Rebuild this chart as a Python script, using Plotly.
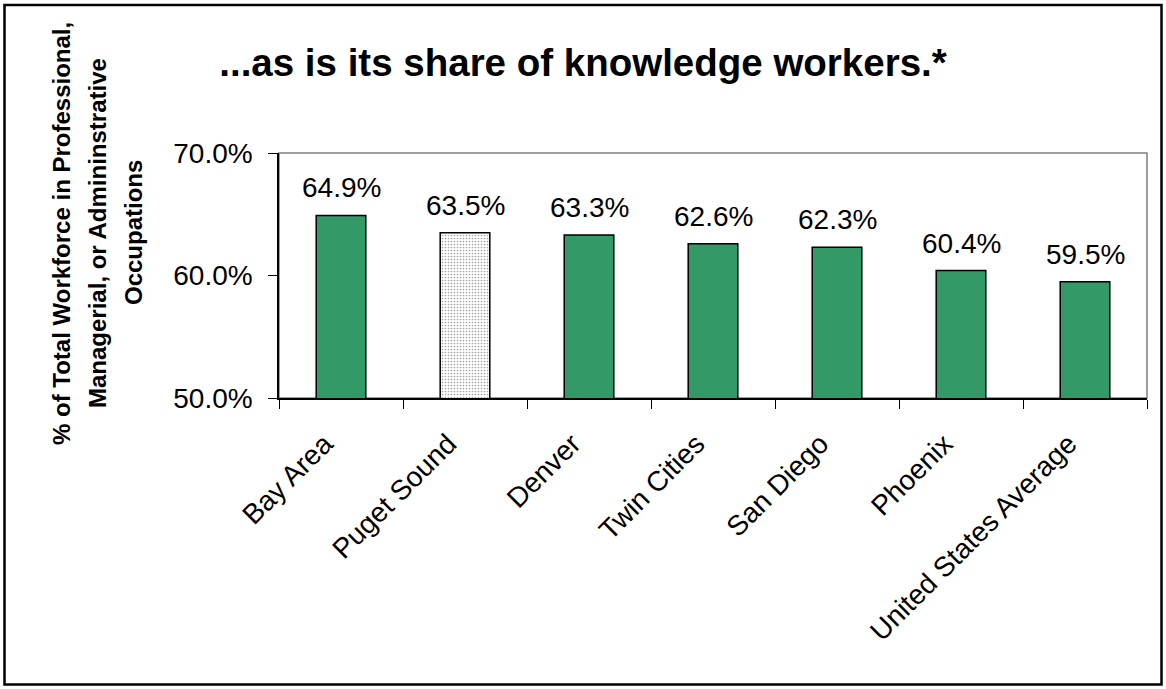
import plotly.graph_objects as go

regions = ["Bay Area", "Puget Sound", "Denver", "Twin Cities", "San Diego",
           "Phoenix", "United States Average"]
share = [64.9, 63.5, 63.3, 62.6, 62.3, 60.4, 59.5]
labels = ["64.9%", "63.5%", "63.3%", "62.6%", "62.3%", "60.4%", "59.5%"]
y_ticks = [50, 60, 70]
y_tick_text = ["50.0%", "60.0%", "70.0%"]
y_title_lines = ["% of Total Workforce in Professional,",
                 "Managerial, or Admininstrative",
                 "Occupations"]

FONT = "Arial, Liberation Sans, sans-serif"
W, H = 1166, 689
L, R, T, B = 279, 1147, 153, 398
pw, ph = R - L, B - T

colors = ["#339966" for _ in regions]
pattern_shapes = ["" for _ in regions]
colors[1] = "#ffffff"
pattern_shapes[1] = "."

fig = go.Figure()
fig.add_trace(go.Bar(
    x=regions, y=share, width=0.4,
    marker=dict(color=colors, line=dict(color="black", width=1.5),
                pattern=dict(shape=pattern_shapes, fgcolor="#a6dcc2",
                             bgcolor="#ffffff", size=3, solidity=0.25)),
    showlegend=False, hoverinfo="skip",
))

for r, v, t in zip(regions, share, labels):
    fig.add_annotation(x=r, y=v, text=t, showarrow=False, yanchor="bottom",
                       yshift=10, font=dict(family=FONT, size=28, color="black"))

# y-axis title, one annotation per line (Excel-like line spacing)
for line, xc in zip(y_title_lines, [61, 97, 133]):
    fig.add_annotation(
        x=(xc - L) / pw, y=(B - 233) / ph, xref="paper", yref="paper",
        xanchor="center", yanchor="middle", text="<b>" + line + "</b>",
        textangle=-90, showarrow=False,
        font=dict(family=FONT, size=24, color="black"),
    )

# outer frame
fig.add_shape(type="rect", xref="paper", yref="paper",
              x0=(4.5 - L) / pw, x1=(1161.5 - L) / pw,
              y0=(B - 684.5) / ph, y1=(B - 5) / ph,
              line=dict(color="black", width=2.5))
# gray plot-area border (top and right)
fig.add_shape(type="rect", xref="paper", yref="paper", x0=0, x1=1, y0=0, y1=1,
              line=dict(color="#808080", width=1.5), layer="below")

fig.update_layout(
    width=W, height=H,
    margin=dict(l=L, r=W - R, t=T, b=H - B),
    paper_bgcolor="white", plot_bgcolor="white",
    font=dict(family=FONT, color="black"),
    title=dict(text="<b>...as is its share of knowledge workers.*</b>",
               x=0.5, xanchor="center", y=1 - 63 / H, yanchor="middle",
               font=dict(family=FONT, size=38.5, color="black")),
)
fig.update_xaxes(
    showline=True, linecolor="black", linewidth=1.5, mirror=False,
    ticks="outside", ticklen=9, tickcolor="black", tickson="boundaries",
    tickvals=regions, ticktext=[r + "\u00a0\u00a0\u00a0" for r in regions],
    tickangle=-45, tickfont=dict(family=FONT, size=28, color="black"),
    showgrid=False, automargin=False,
)
fig.update_yaxes(
    range=[50, 70], tickvals=y_ticks, ticktext=y_tick_text,
    showline=True, linecolor="black", linewidth=1.5,
    ticks="outside", ticklen=9, tickcolor="black",
    tickfont=dict(family=FONT, size=28, color="black"),
    ticklabelstandoff=10,
    showgrid=False, zeroline=False, automargin=False,
)

fig.write_html("out.html", config={"displayModeBar": False},
               post_script="document.body.style.margin='0';")
